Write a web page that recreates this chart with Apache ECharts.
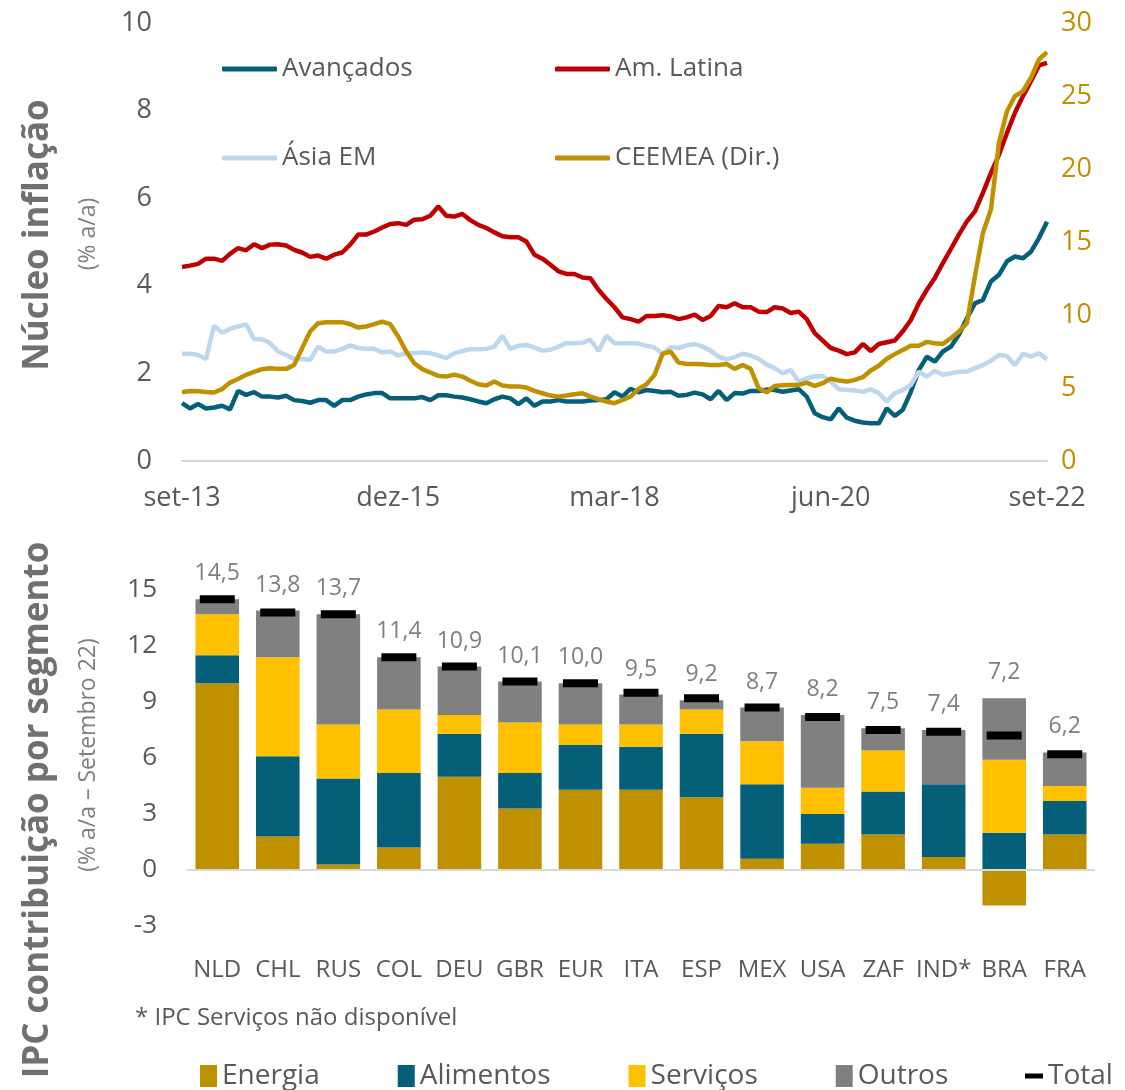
<!DOCTYPE html>
<html>
<head>
<meta charset="utf-8">
<script src="https://cdn.jsdelivr.net/npm/echarts@6/dist/echarts.min.js"></script>
<style>
  html, body { margin: 0; padding: 0; background: #fff; }
  #main { width: 1125px; height: 1090px; }
</style>
</head>
<body>
<div id="main"></div>
<script>
// top panel: monthly core inflation, set-13 .. set-22
var meses = ['jan','fev','mar','abr','mai','jun','jul','ago','set','out','nov','dez'];
var datas = [];
for (var i = 0; i < 109; i++) {
    datas.push(meses[(8 + i) % 12] + '-' + (13 + Math.floor((8 + i) / 12)));
}

var avancados = [1.32,1.20,1.30,1.20,1.22,1.26,1.18,1.60,1.51,1.57,1.47,1.47,1.45,1.49,1.39,1.37,1.33,1.39,1.39,1.26,1.39,
    1.39,1.47,1.52,1.55,1.55,1.43,1.43,1.43,1.43,1.46,1.39,1.50,1.50,1.47,1.45,1.41,
    1.36,1.32,1.41,1.47,1.43,1.30,1.43,1.26,1.36,1.36,1.39,1.36,1.36,1.36,1.38,1.39,1.41,1.57,1.47,1.65,1.57,
    1.62,1.60,1.57,1.58,1.49,1.51,1.56,1.52,1.41,1.60,1.39,1.55,1.54,1.60,1.60,1.63,
    1.62,1.58,1.61,1.64,1.47,1.09,1.00,0.95,1.20,0.99,0.92,0.88,0.86,0.86,1.20,1.03,1.17,1.58,2.08,2.38,2.27,
    2.50,2.61,2.88,3.26,3.60,3.68,4.10,4.25,4.56,4.67,4.63,4.78,5.09,5.46];
var amLatina = [4.43,4.46,4.50,4.62,4.62,4.57,4.73,4.86,4.81,4.95,4.86,4.94,4.95,4.92,4.82,4.76,4.66,4.69,4.62,4.71,4.76,
    4.94,5.17,5.17,5.24,5.33,5.41,5.43,5.39,5.51,5.52,5.60,5.81,5.60,5.58,5.64,5.50,
    5.39,5.32,5.22,5.13,5.11,5.11,5.01,4.71,4.62,4.48,4.33,4.27,4.27,4.19,4.17,3.91,3.70,3.51,3.28,3.24,3.18,
    3.31,3.31,3.33,3.30,3.24,3.28,3.34,3.22,3.31,3.54,3.51,3.60,3.51,3.51,3.41,3.40,
    3.51,3.48,3.38,3.41,3.24,2.92,2.75,2.58,2.52,2.44,2.48,2.67,2.51,2.67,2.71,2.75,2.96,3.22,3.60,3.91,4.18,
    4.52,4.84,5.17,5.47,5.70,6.12,6.58,6.99,7.49,7.95,8.33,8.67,9.03,9.09];
var asiaEM = [2.45,2.45,2.42,2.33,3.09,2.93,3.02,3.07,3.12,2.78,2.78,2.69,2.50,2.42,2.33,2.33,2.31,2.61,2.50,2.50,2.56,
    2.64,2.58,2.56,2.56,2.48,2.50,2.41,2.46,2.46,2.48,2.46,2.41,2.35,2.46,2.51,2.55,
    2.55,2.56,2.61,2.86,2.56,2.63,2.65,2.59,2.52,2.54,2.61,2.69,2.69,2.70,2.77,2.51,2.86,2.69,2.69,2.69,2.68,
    2.63,2.59,2.45,2.60,2.58,2.64,2.67,2.61,2.52,2.38,2.32,2.37,2.45,2.41,2.33,2.20,
    2.12,2.00,2.08,1.81,1.89,1.93,1.94,1.81,1.64,1.62,1.61,1.58,1.64,1.55,1.36,1.55,1.62,1.74,2.04,1.93,2.06,
    1.97,2.00,2.04,2.04,2.12,2.19,2.29,2.42,2.40,2.19,2.45,2.38,2.46,2.32];
var ceemea = [4.71,4.80,4.78,4.73,4.69,4.92,5.37,5.62,5.90,6.10,6.29,6.36,6.31,6.31,6.58,7.73,8.87,9.44,9.51,9.51,9.51,
    9.37,9.14,9.21,9.37,9.55,9.37,8.53,7.50,6.70,6.29,6.06,5.83,5.78,5.92,5.78,5.50,
    5.26,5.17,5.44,5.17,5.10,5.10,5.03,4.80,4.64,4.48,4.41,4.48,4.57,4.64,4.41,4.23,4.07,3.96,4.18,4.41,4.94,
    5.26,5.90,7.34,7.50,6.74,6.65,6.65,6.63,6.58,6.58,6.65,6.31,6.58,6.31,4.99,4.70,
    5.14,5.19,5.21,5.21,5.37,5.14,5.33,5.64,5.51,5.44,5.56,5.74,6.20,6.52,7.00,7.32,7.61,7.89,7.89,8.16,8.07,
    8.02,8.41,8.87,9.44,12.64,15.62,17.22,21.79,23.96,24.99,25.33,26.25,27.50,28.00];

// bottom panel: CPI contribution by segment, Sep 22
var paises = ['NLD','CHL','RUS','COL','DEU','GBR','EUR','ITA','ESP','MEX','USA','ZAF','IND*','BRA','FRA'];
var energia   = [10.0, 1.8, 0.3, 1.2, 5.0, 3.3, 4.3, 4.3, 3.9, 0.6, 1.4, 1.9, 0.7, -1.9, 1.9];
var alimentos = [ 1.5, 4.3, 4.6, 4.0, 2.3, 1.9, 2.4, 2.3, 3.4, 4.0, 1.6, 2.3, 3.9,  2.0, 1.8];
var servicos  = [ 2.2, 5.3, 2.9, 3.4, 1.0, 2.7, 1.1, 1.2, 1.3, 2.3, 1.4, 2.2, 0.0,  3.9, 0.8];
var outros    = [ 0.8, 2.5, 5.9, 2.8, 2.6, 2.2, 2.2, 1.6, 0.5, 1.8, 3.9, 1.2, 2.9,  3.3, 1.8];
var total     = [14.5,13.8,13.7,11.4,10.9,10.1,10.0, 9.5, 9.2, 8.7, 8.2, 7.5, 7.4,  7.2, 6.2];

var cinza = '#595959';
var fonte = 'Open Sans';
var cTeal = '#055F78', cGold = '#BF9000';

var chart = echarts.init(document.getElementById('main'));

function legendaLinha(nome, left, top) {
    return {
        data: [nome], left: left, top: top, padding: 0,
        icon: 'roundRect', itemWidth: 55, itemHeight: 5,
        textStyle: { color: cinza, fontSize: 26, fontFamily: fonte }
    };
}

var option = {
    backgroundColor: '#fff',
    animation: false,
    textStyle: { fontFamily: fonte },
    grid: [
        { left: 182, right: 78, top: 23, height: 438 },
        { left: 187, right: 30, top: 590, height: 336 }
    ],
    legend: [
        legendaLinha('Avançados', 222, 56),
        legendaLinha('Am. Latina', 555, 56),
        legendaLinha('Ásia EM', 222, 145),
        legendaLinha('CEEMEA (Dir.)', 555, 145),
        {
            data: ['Energia', 'Alimentos', 'Serviços', 'Outros'],
            left: 200, top: 1062, itemGap: 78, padding: 0,
            icon: 'rect', itemWidth: 17, itemHeight: 22,
            textStyle: { color: cinza, fontSize: 28, fontFamily: fonte }
        },
        {
            data: ['Total'], left: 1025, top: 1062, padding: 0,
            icon: 'rect', itemWidth: 18, itemHeight: 5,
            itemStyle: { opacity: 1 },
            textStyle: { color: cinza, fontSize: 28, fontFamily: fonte }
        }
    ],
    xAxis: [{
        type: 'category', gridIndex: 0, data: datas, boundaryGap: false,
        axisLine: { lineStyle: { color: '#D9D9D9', width: 2 } },
        axisTick: { show: false },
        axisLabel: { interval: 26, color: cinza, fontSize: 27, margin: 24 }
    }, {
        type: 'category', gridIndex: 1, data: paises,
        axisLine: { show: false, onZero: false },
        axisTick: { show: false },
        axisLabel: { interval: 0, color: cinza, fontSize: 24, margin: 32 }
    }],
    yAxis: [{
        type: 'value', gridIndex: 0, min: 0, max: 10, interval: 2,
        splitLine: { show: false },
        axisLabel: { color: cinza, fontSize: 27, margin: 30 }
    }, {
        type: 'value', gridIndex: 0, min: 0, max: 30, interval: 5, position: 'right',
        splitLine: { show: false },
        axisLabel: { color: cGold, fontSize: 27, margin: 14 }
    }, {
        type: 'value', gridIndex: 1, min: -3, max: 15, interval: 3,
        splitLine: { show: false },
        axisLabel: { color: cinza, fontSize: 26, margin: 30 }
    }],
    series: [
        { name: 'Avançados', type: 'line', data: avancados, showSymbol: false,
          lineStyle: { width: 4.5, color: cTeal }, itemStyle: { color: cTeal } },
        { name: 'Am. Latina', type: 'line', data: amLatina, showSymbol: false,
          lineStyle: { width: 4.5, color: '#C00000' }, itemStyle: { color: '#C00000' } },
        { name: 'Ásia EM', type: 'line', data: asiaEM, showSymbol: false,
          lineStyle: { width: 4.5, color: '#BDD7EE' }, itemStyle: { color: '#BDD7EE' } },
        { name: 'CEEMEA (Dir.)', type: 'line', data: ceemea, yAxisIndex: 1, showSymbol: false,
          lineStyle: { width: 4.5, color: cGold }, itemStyle: { color: cGold } },

        { name: 'Energia', type: 'bar', stack: 'ipc', xAxisIndex: 1, yAxisIndex: 2,
          barWidth: '72%', data: energia, itemStyle: { color: cGold },
          markLine: { silent: true, symbol: 'none', label: { show: false },
                      lineStyle: { color: '#D9D9D9', width: 2, type: 'solid' },
                      data: [{ yAxis: 0 }] } },
        { name: 'Alimentos', type: 'bar', stack: 'ipc', xAxisIndex: 1, yAxisIndex: 2,
          data: alimentos, itemStyle: { color: cTeal } },
        { name: 'Serviços', type: 'bar', stack: 'ipc', xAxisIndex: 1, yAxisIndex: 2,
          data: servicos, itemStyle: { color: '#FFC000' } },
        { name: 'Outros', type: 'bar', stack: 'ipc', xAxisIndex: 1, yAxisIndex: 2,
          data: outros, itemStyle: { color: '#808080' },
          label: { show: true, position: 'top', distance: 14, color: '#7F7F7F', fontSize: 23,
                   formatter: function (p) { return total[p.dataIndex].toFixed(1).replace('.', ','); } } },
        { name: 'Total', type: 'scatter', xAxisIndex: 1, yAxisIndex: 2, data: total,
          symbol: 'rect', symbolSize: [35, 8], itemStyle: { color: '#000', opacity: 1 }, z: 10 }
    ],
    graphic: [
        { type: 'text', x: 38, y: 235, rotation: Math.PI / 2,
          style: { text: 'Núcleo inflação', fontSize: 35, fontWeight: 'bold', fontFamily: fonte,
                   fill: '#707070', align: 'center', verticalAlign: 'middle' } },
        { type: 'text', x: 88, y: 234, rotation: Math.PI / 2,
          style: { text: '(% a/a)', fontSize: 23, fontFamily: fonte,
                   fill: '#7F7F7F', align: 'center', verticalAlign: 'middle' } },
        { type: 'text', x: 38, y: 810, rotation: Math.PI / 2,
          style: { text: 'IPC contribuição por segmento', fontSize: 35, fontWeight: 'bold', fontFamily: fonte,
                   fill: '#707070', align: 'center', verticalAlign: 'middle' } },
        { type: 'text', x: 88, y: 755, rotation: Math.PI / 2,
          style: { text: '(% a/a – Setembro 22)', fontSize: 23, fontFamily: fonte,
                   fill: '#7F7F7F', align: 'center', verticalAlign: 'middle' } },
        { type: 'text', x: 135, y: 1018,
          style: { text: '* IPC Serviços não disponível', fontSize: 24, fontFamily: fonte,
                   fill: cinza, align: 'left', verticalAlign: 'middle' } }
    ]
};

chart.setOption(option);
</script>
</body>
</html>
